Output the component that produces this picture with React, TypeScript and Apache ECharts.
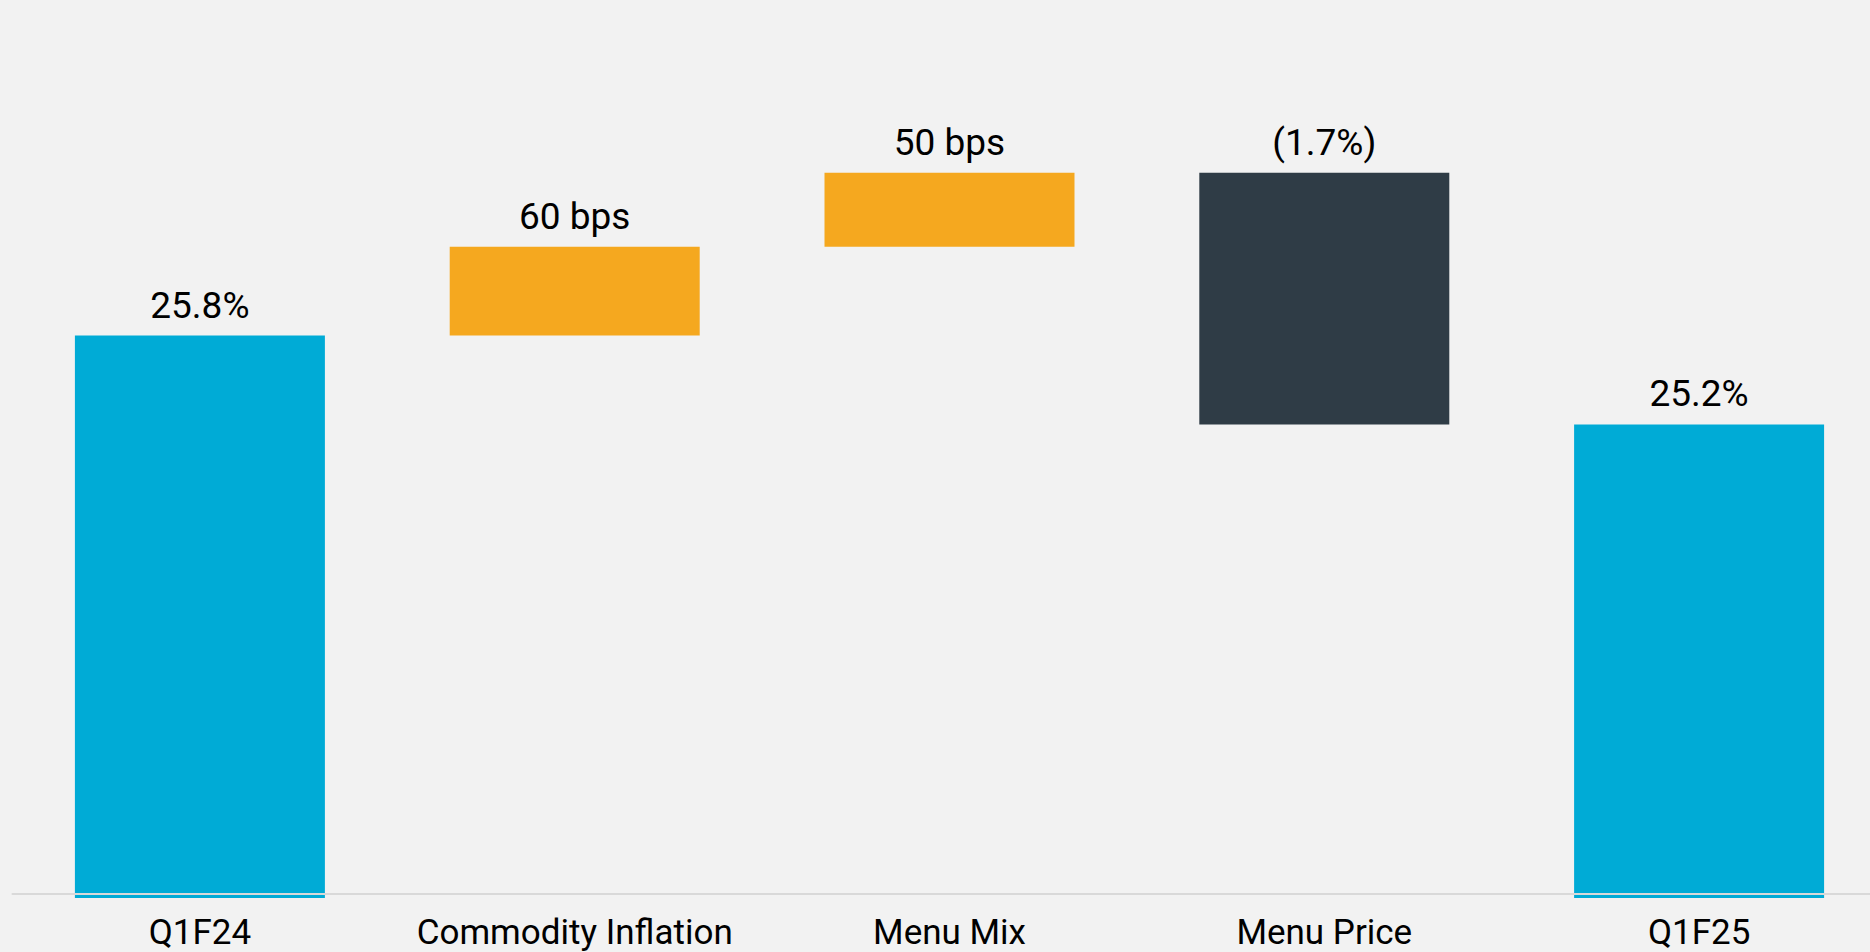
import React, { useEffect, useRef } from "react";
import * as echarts from "echarts";

const categories = ["Q1F24", "Commodity Inflation", "Menu Mix", "Menu Price", "Q1F25"];
// totals are in %, deltas in percentage points
const values = [25.8, 0.6, 0.5, -1.7, 25.2];
const kinds = ["total", "delta", "delta", "delta", "total"];

const COLOR_TOTAL = "#00abd6";
const COLOR_UP = "#f5a81f";
const COLOR_DOWN = "#2f3c46";

function labelFor(i: number): string {
  const v = values[i];
  if (kinds[i] === "total") return `${v.toFixed(1)}%`;
  if (v >= 0) return `${Math.round(v * 100)} bps`;
  return `(${Math.abs(v).toFixed(1)}%)`;
}

export default function App() {
  const ref = useRef<HTMLDivElement>(null);

  useEffect(() => {
    if (!ref.current) return;
    const chart = echarts.init(ref.current, null, { renderer: "svg" });

    // compute waterfall bases from the data
    const base: number[] = [];
    const visible: any[] = [];
    let running = 0;
    values.forEach((v, i) => {
      if (kinds[i] === "total") {
        base.push(0);
        visible.push({
          value: v,
          itemStyle: { color: COLOR_TOTAL },
        });
        running = v;
      } else {
        const next = running + v;
        base.push(Math.min(running, next));
        visible.push({
          value: Math.abs(v),
          itemStyle: { color: v >= 0 ? COLOR_UP : COLOR_DOWN },
        });
        running = next;
      }
    });

    chart.setOption({
      animation: false,
      backgroundColor: "#f2f2f2",
      grid: {
        left: 12.5,
        width: 1874,
        top: 10,
        bottom: 54,
        containLabel: false,
        outerBoundsMode: "none",
      },
      xAxis: {
        type: "category",
        data: categories,
        offset: -4,
        z: 10,
        axisLine: { show: true, lineStyle: { color: "#d9d9d9", width: 2 } },
        axisTick: { show: false },
        axisLabel: {
          color: "#000",
          fontFamily: "Roboto",
          fontSize: 35,
          margin: 21,
          interval: 0,
        },
        splitLine: { show: false },
      },
      yAxis: {
        type: "value",
        min: 22,
        max: 28,
        show: false,
        splitLine: { show: false },
      },
      series: [
        {
          type: "bar",
          stack: "wf",
          data: base,
          itemStyle: { color: "transparent" },
          barCategoryGap: "33.3%",
          silent: true,
        },
        {
          type: "bar",
          stack: "wf",
          data: visible,
          barCategoryGap: "33.3%",
          label: {
            show: true,
            position: "top",
            distance: 12,
            color: "#000",
            fontFamily: "Roboto",
            fontSize: 37,
            formatter: (p: any) => labelFor(p.dataIndex),
          },
        },
      ],
    });

    return () => chart.dispose();
  }, []);

  return (
    <div
      ref={ref}
      style={{ position: "absolute", left: 0, top: 0, width: 1870, height: 952 }}
    />
  );
}
